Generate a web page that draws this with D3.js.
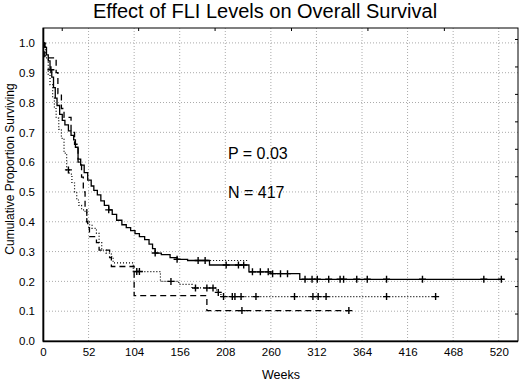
<!DOCTYPE html>
<html>
<head>
<meta charset="utf-8">
<script src="https://cdn.jsdelivr.net/npm/d3@7"></script>
<style>
  body { margin: 0; background: #fff; }
  text { font-family: "Liberation Sans", Arial, sans-serif; fill: #000; }
</style>
</head>
<body>
<script>
const width = 520;
const height = 382;

// weeks / cumulative proportion surviving
const solidCurve = [[0,1.0],[2,0.985],[4,0.96],[6,0.94],[8,0.91],[10,0.885],[12,0.85],[14,0.815],[16,0.79],[19,0.76],[22,0.74],[25,0.725],[29,0.705],[32,0.69],[35,0.675],[37,0.65],[40,0.61],[43,0.59],[47,0.565],[51,0.54],[55,0.52],[58,0.505],[62,0.49],[66,0.47],[70,0.455],[75,0.44],[79,0.425],[84,0.405],[90,0.39],[95,0.38],[100,0.37],[105,0.36],[110,0.35],[116,0.34],[121,0.325],[125,0.31],[128,0.295],[135,0.29],[145,0.28],[153,0.274],[165,0.27],[190,0.255],[235,0.232],[260,0.226],[293,0.207],[525,0.207]];
const solidCensored = [9,75,128,153,177,185,209,223,229,239,248,257,262,271,279,299,307,313,326,339,343,358,370,392,433,503,523];

const dottedCurve = [[0,1.0],[3,0.95],[6,0.894],[8,0.86],[11,0.815],[13,0.78],[15,0.748],[18,0.71],[21,0.68],[24,0.63],[27,0.574],[30,0.56],[33,0.53],[36,0.5],[38.5,0.473],[41,0.455],[44,0.44],[48,0.43],[50,0.40],[53,0.39],[56,0.378],[61,0.361],[64,0.33],[67,0.305],[72,0.295],[78,0.283],[80,0.262],[103,0.233],[134,0.2],[155,0.19],[170,0.178],[198,0.163],[203,0.149],[448,0.149]];
const dottedCensored = [29,107,110,146,174,187,194,200,206,216,219,226,243,287,308,314,323,392,448];

const dashedCurve = [[0,1.0],[2,0.95],[15,0.90],[17,0.83],[21,0.78],[24,0.75],[32,0.70],[36,0.66],[40,0.6],[44,0.55],[46,0.5],[48,0.45],[50,0.4],[51,0.38],[53,0.35],[61,0.33],[64,0.305],[76,0.28],[78,0.25],[104,0.152],[187,0.102],[349,0.102]];
const dashedCensored = [227,349];

const extraCurve = [[177,0.27],[233,0.264]];

const xTicks = [0,52,104,156,208,260,312,364,416,468,520];
const yTicks = [0.0,0.1,0.2,0.3,0.4,0.5,0.6,0.7,0.8,0.9,1.0];

const svg = d3.select("body").append("svg")
    .attr("width", width)
    .attr("height", height);

const x = d3.scaleLinear().domain([0, 542]).range([43, 518]);
const y = d3.scaleLinear().domain([0, 1.05]).range([341, 28]);

// odd extra tick marks on top / right edge
const xTop = d3.scaleLinear().domain([-0.245, 5.97]).range([43, 518]);
const yRight = d3.scaleLinear().domain([0, 11.4]).range([341, 28]);

// grid
svg.append("g").selectAll("line")
  .data(xTicks.slice(1))
  .join("line")
    .attr("x1", d => x(d)).attr("x2", d => x(d))
    .attr("y1", 28).attr("y2", 341)
    .attr("stroke", "#aaa")
    .attr("stroke-dasharray", "1,2");

svg.append("g").selectAll("line")
  .data(yTicks.slice(1))
  .join("line")
    .attr("x1", 43).attr("x2", 518)
    .attr("y1", d => y(d)).attr("y2", d => y(d))
    .attr("stroke", "#aaa")
    .attr("stroke-dasharray", "1,2");

// axes labels
svg.append("g")
    .attr("transform", "translate(43,0)")
    .call(d3.axisLeft(y).tickValues(yTicks).tickFormat(d3.format(".1f")).tickSize(0).tickPadding(8))
    .call(g => g.select(".domain").remove())
    .call(g => g.selectAll("text").style("font-size", "11.5px").style("font-family", "Liberation Sans, Arial, sans-serif"));

svg.append("g")
    .attr("transform", "translate(0,341)")
    .call(d3.axisBottom(x).tickValues(xTicks).tickSize(0).tickPadding(7))
    .call(g => g.select(".domain").remove())
    .call(g => g.selectAll("text").style("font-size", "11.5px").style("font-family", "Liberation Sans, Arial, sans-serif"));

svg.append("g")
    .attr("transform", "translate(0,28)")
    .call(d3.axisBottom(xTop).tickValues(d3.range(0, 6)).tickSize(3).tickFormat(""))
    .call(g => g.select(".domain").remove());

svg.append("g")
    .attr("transform", "translate(518,0)")
    .call(d3.axisLeft(yRight).tickValues(d3.range(0, 12)).tickSize(3).tickFormat(""))
    .call(g => g.select(".domain").remove());

// frame
svg.append("rect")
    .attr("x", 43).attr("y", 28)
    .attr("width", 475).attr("height", 313)
    .attr("fill", "none")
    .attr("stroke", "#000")
    .attr("stroke-width", 1);
svg.append("path")
    .attr("d", `M43.5,28V341.5H518`)
    .attr("fill", "none")
    .attr("stroke", "#000")
    .attr("stroke-width", 1.6);

// curves
const line = d3.line()
    .x(d => x(d[0]))
    .y(d => y(d[1]))
    .curve(d3.curveStepAfter);

function survAt(curve, w) {
  let s = curve[0][1];
  for (const p of curve) { if (p[0] <= w) s = p[1]; }
  return s;
}

const series = [
  {curve: solidCurve, censored: solidCensored, dash: null, sw: 1.3},
  {curve: dottedCurve, censored: dottedCensored, dash: "1,2", sw: 1.2},
  {curve: dashedCurve, censored: dashedCensored, dash: "6,4", sw: 1.3},
  {curve: extraCurve, censored: [], dash: "1,2", sw: 1.2}
];

series.forEach(function(s) {
  svg.append("path")
      .datum(s.curve)
      .attr("d", line)
      .attr("fill", "none")
      .attr("stroke", "#000")
      .attr("stroke-width", s.sw)
      .attr("stroke-dasharray", s.dash);

  svg.append("g").selectAll("path")
    .data(s.censored)
    .join("path")
      .attr("d", d => {
        const cx = x(d), cy = y(survAt(s.curve, d));
        return `M${cx-3.5},${cy}H${cx+3.5}M${cx},${cy-3.5}V${cy+3.5}`;
      })
      .attr("stroke", "#000")
      .attr("stroke-width", 1.4);
});

// text
svg.append("text")
    .attr("x", 265).attr("y", 18)
    .attr("text-anchor", "middle")
    .style("font-size", "20px")
    .text("Effect of FLI Levels on Overall Survival");

svg.append("text")
    .attr("transform", "translate(14,169) rotate(-90)")
    .attr("text-anchor", "middle")
    .style("font-size", "12px")
    .text("Cumulative Proportion Surviving");

svg.append("text")
    .attr("x", 281).attr("y", 379)
    .attr("text-anchor", "middle")
    .style("font-size", "12.5px")
    .text("Weeks");

svg.append("text")
    .attr("x", 228).attr("y", 159)
    .style("font-size", "16px")
    .text("P = 0.03");

svg.append("text")
    .attr("x", 228).attr("y", 198)
    .style("font-size", "16px")
    .text("N = 417");
</script>
</body>
</html>
